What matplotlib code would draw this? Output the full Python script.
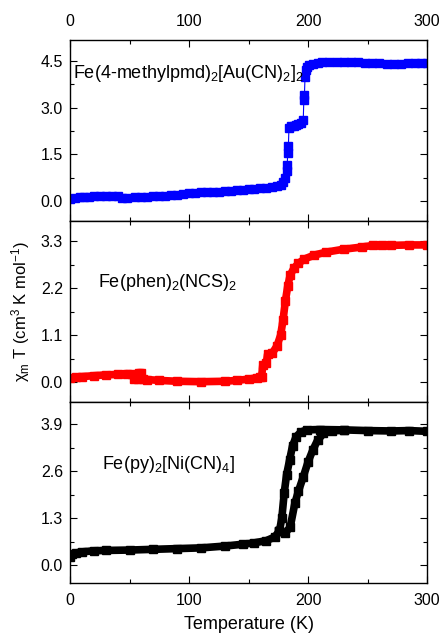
import numpy as np
import matplotlib
matplotlib.use('Agg')
import matplotlib.pyplot as plt
from matplotlib.ticker import MultipleLocator, AutoMinorLocator

plt.rcParams['font.family'] = ['Liberation Sans', 'DejaVu Sans']
plt.rcParams['mathtext.fontset'] = 'custom'
plt.rcParams['mathtext.rm'] = 'Liberation Sans'
plt.rcParams['mathtext.it'] = 'Liberation Sans'

# Fe(4-methylpmd)2[Au(CN)2]2 (blue)
blue_T = [0, 4, 8, 12, 16, 20, 25, 30, 35, 40, 44, 48, 55, 60, 65, 70, 75, 80, 85, 90,
          95, 100, 105, 110, 115, 120, 125, 130, 135, 140, 145, 150, 155, 160, 165, 170,
          174, 177, 179, 181, 182, 182.5, 183, 183.5, 184, 186, 188, 190, 192, 194, 196,
          196.5, 197, 197.5, 198, 199, 201, 204, 208, 212, 218, 224, 230, 236, 242, 248,
          254, 260, 266, 272, 278, 284, 290, 295, 300]
blue_chi = [0.06, 0.10, 0.11, 0.12, 0.13, 0.14, 0.14, 0.15, 0.16, 0.16, 0.10, 0.10, 0.11,
            0.12, 0.13, 0.14, 0.15, 0.16, 0.18, 0.20, 0.22, 0.24, 0.26, 0.27, 0.28, 0.29,
            0.30, 0.32, 0.33, 0.35, 0.36, 0.37, 0.39, 0.40, 0.42, 0.44, 0.47, 0.52, 0.62,
            0.75, 0.95, 1.15, 1.55, 1.75, 2.35, 2.40, 2.42, 2.45, 2.48, 2.52, 2.60, 3.25,
            3.40, 4.00, 4.20, 4.30, 4.38, 4.42, 4.45, 4.47, 4.47, 4.47, 4.47, 4.46, 4.46,
            4.45, 4.44, 4.43, 4.42, 4.41, 4.41, 4.43, 4.44, 4.45, 4.45]

# Fe(phen)2(NCS)2 (red)
red_T = [0, 5, 10, 20, 30, 40, 48, 52, 54, 57, 58, 60, 61, 65, 75, 90, 110, 130, 140,
         150, 157, 160, 161, 162, 165, 166, 170, 174, 177, 179, 181, 183, 185, 188, 192,
         197, 205, 215, 230, 245, 255, 262, 270, 285, 300]
red_chi = [0.09, 0.12, 0.13, 0.15, 0.17, 0.18, 0.20, 0.18, 0.08, 0.07, 0.22, 0.22, 0.08,
           0.06, 0.04, 0.02, 0.01, 0.02, 0.04, 0.07, 0.10, 0.13, 0.12, 0.40, 0.45, 0.65,
           0.68, 0.85, 1.10, 1.45, 1.90, 2.25, 2.50, 2.66, 2.78, 2.88, 2.97, 3.04, 3.11,
           3.16, 3.20, 3.21, 3.20, 3.21, 3.21]

# Fe(py)2[Ni(CN)4] (black), shared low-spin part and two branches of the loop
black_T_low = [0, 2, 5, 10, 20, 30, 50, 70, 90, 110, 130, 145, 155, 165, 172, 176]
black_chi_low = [0.24, 0.30, 0.34, 0.37, 0.40, 0.41, 0.42, 0.44, 0.46, 0.48, 0.53, 0.58,
                 0.62, 0.68, 0.78, 0.95]
black_T_cool = [176, 178, 180, 182, 184.5, 187, 190, 194, 199, 210, 230, 250, 270, 285, 300]
black_chi_cool = [0.95, 1.30, 2.00, 2.50, 2.90, 3.30, 3.55, 3.68, 3.74, 3.75, 3.74, 3.72,
                  3.71, 3.72, 3.70]
black_T_heat = [176, 181, 185, 189, 192, 196, 200, 204, 208, 213, 220, 230]
black_chi_heat = [0.95, 0.90, 1.05, 1.72, 2.05, 2.44, 2.85, 3.18, 3.45, 3.64, 3.71, 3.73]

labels = [r'Fe(4-methylpmd)$_2$[Au(CN)$_2$]$_2$', r'Fe(phen)$_2$(NCS)$_2$',
          r'Fe(py)$_2$[Ni(CN)$_4$]']

fig = plt.figure(figsize=(4.42, 6.35), dpi=100)
gs = fig.add_gridspec(3, 1, left=70/442, right=427/442, top=1-40/635, bottom=1-583/635,
                      hspace=0)
axes = [fig.add_subplot(gs[i]) for i in range(3)]

ax = axes[0]
ax.plot(blue_T, blue_chi, '-', color='#0000ff', lw=0.8, marker='s', ms=5.5, mec='#0000ff')
ax.set_ylim(-0.65, 5.18)
ax.yaxis.set_major_locator(MultipleLocator(1.5))
ax.text(2.5, 3.94, labels[0], fontsize=13, va='baseline', ha='left')

ax = axes[1]
ax.plot(red_T, red_chi, '-', color='#ff0000', lw=5.5, marker='s', ms=5.5, solid_joinstyle='round')
ax.set_ylim(-0.465, 3.77)
ax.yaxis.set_major_locator(MultipleLocator(1.1))
ax.text(23.8, 2.23, labels[1], fontsize=13, va='baseline', ha='left')
ax.set_ylabel(r'$\chi_m$ T (cm$^3$ K mol$^{-1}$)', fontsize=12)
ax.yaxis.set_label_coords(-0.106, 0.5)

ax = axes[2]
for T, chi in [(black_T_low, black_chi_low), (black_T_cool, black_chi_cool),
               (black_T_heat, black_chi_heat)]:
    ax.plot(T, chi, '-', color='black', lw=5.5, marker='s', ms=5.5, solid_joinstyle='round')
ax.set_ylim(-0.49, 4.51)
ax.yaxis.set_major_locator(MultipleLocator(1.3))
ax.text(26.6, 2.65, labels[2], fontsize=13, va='baseline', ha='left')
ax.set_xlabel('Temperature (K)', fontsize=13, labelpad=6)

for i, ax in enumerate(axes):
    ax.set_xlim(0, 300)
    ax.xaxis.set_major_locator(MultipleLocator(100))
    ax.xaxis.set_minor_locator(AutoMinorLocator(2))
    ax.yaxis.set_minor_locator(AutoMinorLocator(2))
    ax.tick_params(which='both', direction='in', top=True, right=True, labelsize=11.5,
                   width=0.8)
    ax.tick_params(which='major', length=5)
    ax.tick_params(which='minor', length=3)
    ax.tick_params(axis='x', pad=7)
    ax.tick_params(axis='y', pad=5)
    ax.yaxis.set_major_formatter(plt.FormatStrFormatter('%.1f'))
    for sp in ax.spines.values():
        sp.set_linewidth(1.0)
    if i == 0:
        ax.tick_params(axis='x', labeltop=True, labelbottom=False, pad=8)
    elif i == 1:
        ax.tick_params(axis='x', labelbottom=False)

fig.savefig('out.png', dpi=100)
